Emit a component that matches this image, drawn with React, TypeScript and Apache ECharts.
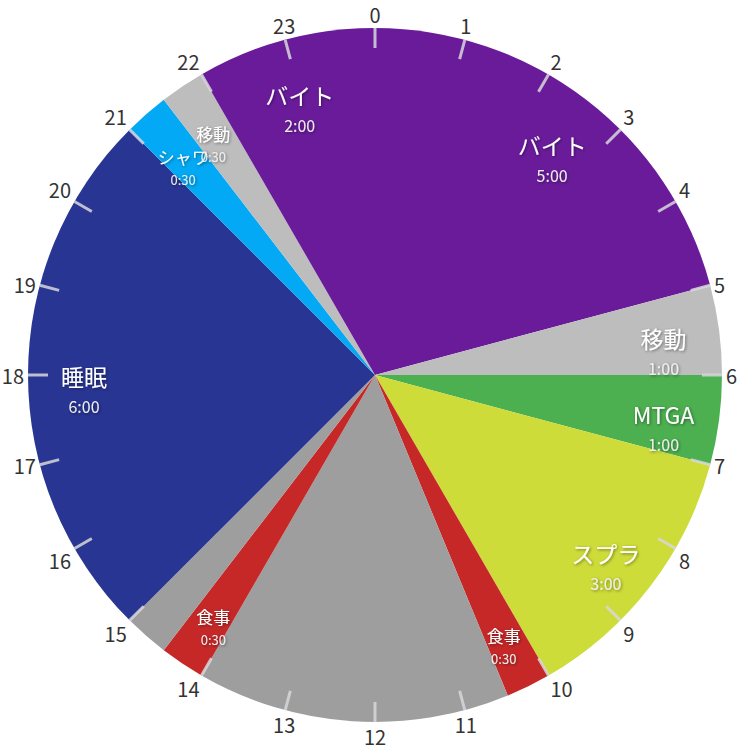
import * as echarts from "echarts";
import { useEffect, useRef } from "react";

// One day, clockwise from 0:00. Unnamed slices are unlabeled gaps.
const ACTIVITIES = ["バイト", "移動", "MTGA", "スプラ", "食事", "", "食事", "", "睡眠", "シャワ", "移動", "バイト"];
const HOURS = [5, 1, 1, 3, 0.5, 3.5, 0.5, 0.5, 6, 0.5, 0.5, 2];
const COLORS = [
  "#6a1b9a",
  "#bdbdbd",
  "#4caf50",
  "#cddc39",
  "#c62828",
  "#9e9e9e",
  "#c62828",
  "#9e9e9e",
  "#283593",
  "#03a9f4",
  "#bdbdbd",
  "#6a1b9a",
];

const FONT = "Noto Sans CJK JP";
const R = 347;

function hm(h: number) {
  const m = Math.round(h * 60);
  return `${Math.floor(m / 60)}:${String(m % 60).padStart(2, "0")}`;
}

const shadow = {
  textShadowColor: "rgba(0,0,0,0.45)",
  textShadowBlur: 3,
  textShadowOffsetX: 1,
  textShadowOffsetY: 1,
};

export default function App() {
  const ref = useRef<HTMLDivElement>(null);

  useEffect(() => {
    const el = ref.current;
    if (!el) return;
    const chart = echarts.init(el, undefined, { renderer: "svg" });

    const slices = HOURS.map((h, i) => ({
      name: ACTIVITIES[i],
      value: h,
      itemStyle: { color: COLORS[i] },
    }));

    // labels: big name on the anchor point, duration one line below
    const labelFor = (h: number) =>
      h >= 1
        ? { padding: [30, 0, 0, 0], fontSize: 23 }
        : { padding: [22, 0, 0, 0], fontSize: 17 };

    chart.setOption({
      animation: false,
      polar: { center: ["50%", "50%"], radius: R },
      angleAxis: {
        type: "value",
        min: 0,
        max: 24,
        interval: 1,
        startAngle: 90,
        clockwise: true,
        z: 5,
        axisLine: { show: false },
        splitLine: { show: false },
        axisTick: {
          show: true,
          inside: true,
          length: 20,
          lineStyle: { color: "rgba(215,215,220,0.85)", width: 3 },
        },
        axisLabel: {
          margin: 4,
          color: "#333333",
          fontSize: 20,
          fontFamily: FONT,
          formatter: (v: number) => (v >= 24 ? "" : String(v)),
        },
      },
      radiusAxis: { show: false, min: 0, max: 1 },
      series: [
        {
          type: "pie",
          radius: [0, R],
          center: ["50%", "50%"],
          startAngle: 90,
          clockwise: true,
          silent: true,
          z: 2,
          label: { show: false },
          labelLine: { show: false },
          itemStyle: { borderWidth: 0 },
          data: slices,
        },
        {
          // transparent ring that only carries the labels near the rim
          type: "pie",
          radius: [229, R],
          center: ["50%", "50%"],
          startAngle: 90,
          clockwise: true,
          silent: true,
          z: 3,
          minShowLabelAngle: 0,
          avoidLabelOverlap: false,
          labelLayout: { hideOverlap: false },
          labelLine: { show: false },
          itemStyle: { color: "rgba(0,0,0,0)", borderWidth: 0 },
          label: {
            show: true,
            position: "inside",
            fontFamily: FONT,
            color: "#ffffff",
            ...shadow,
            formatter: (p: any) => {
              if (!p.name) return "";
              const big = p.value >= 1;
              return big
                ? `{n|${p.name}}\n{v|${hm(p.value)}}`
                : `{ns|${p.name}}\n{vs|${hm(p.value)}}`;
            },
            rich: {
              n: { fontSize: 23, lineHeight: 32, color: "#ffffff", fontFamily: FONT, ...shadow },
              v: { fontSize: 16, lineHeight: 28, color: "#eeeeee", fontFamily: FONT, ...shadow },
              ns: { fontSize: 17, lineHeight: 24, color: "#ffffff", fontFamily: FONT, ...shadow },
              vs: { fontSize: 13, lineHeight: 22, color: "#eeeeee", fontFamily: FONT, ...shadow },
            },
          },
          data: slices.map((s) => ({
            name: s.name,
            value: s.value,
            label: labelFor(s.value),
          })),
        },
      ],
    });

    return () => chart.dispose();
  }, []);

  return <div ref={ref} style={{ position: "absolute", left: 0, top: 0, width: 750, height: 750 }} />;
}
